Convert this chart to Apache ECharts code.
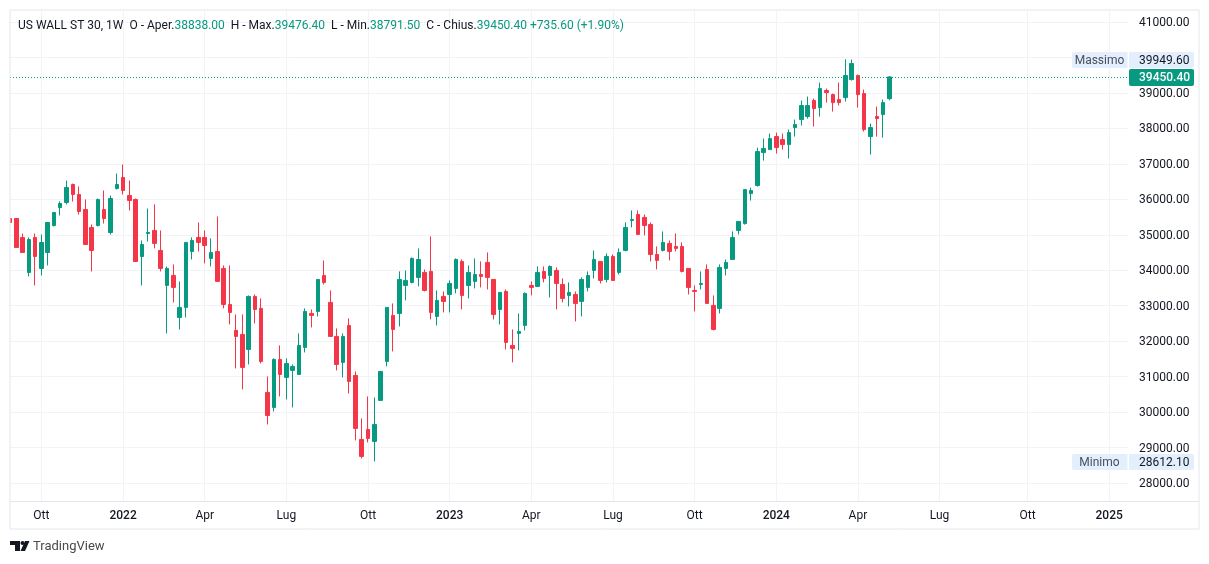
<!DOCTYPE html>
<html>
<head>
<meta charset="UTF-8">
<script src="https://cdn.jsdelivr.net/npm/echarts@6/dist/echarts.min.js"></script>
<style>
html, body { margin: 0; padding: 0; background: #fff; }
#chart { width: 1209px; height: 564px; }
</style>
</head>
<body>
<div id="chart"></div>
<script>
// weekly candles
var firstWeek = '2021-08-30';
var weekCount = 179;

var opens = [
  35458,35458,34923,33936,34923,34048,34500,35261,35769,35910,
  36417,36135,35712,35205,35261,35712,35064,36304,36615,36107,
  35994,34387,35035,35122,34558,33571,33853,32669,32951,34530,
  34925,34925,34333,34530,34051,33035,32302,32189,31766,33261,
  32923,30554,30131,31484,30977,31174,31061,31823,32782,32838,
  33853,33092,32133,31400,32443,31033,29228,29510,29172,30328,
  31428,32725,32782,33571,33656,33797,33938,33966,32697,33261,
  33317,33487,34248,33571,33684,33881,34220,33740,32894,33402,
  31879,32218,32443,33571,33543,33966,33853,33994,33599,33289,
  33317,33120,33515,33994,34248,33740,34389,33938,34558,35404,
  35573,35489,35291,34445,34558,34756,34671,34671,34051,33430,
  33599,34022,33007,32923,34051,34304,35122,35315,36161,36387,
  37317,37402,37769,37684,37543,38022,38248,38333,38784,38586,
  39066,38953,38812,38868,39376,39489,38981,37769,38333,38389,
  38838
];
var closes = [
  35346,34641,34500,34866,34387,34782,35346,35628,35881,36333,
  36135,35656,34725,34556,35994,35458,36022,36417,36248,35966,
  34246,34725,35064,34756,34051,34051,33515,32951,34784,34840,
  34784,34699,34502,33684,33035,32810,32133,31259,33261,32894,
  31428,29905,31484,31061,31372,31287,31879,32838,32725,33740,
  33656,32133,31343,32133,30864,29539,28749,29257,29651,31146,
  32951,32330,33740,33712,34333,34304,33430,32810,33148,33120,
  33628,34304,33289,33938,33881,33825,33797,32753,33374,31964,
  31795,32274,33346,33515,33938,33769,34107,33628,33205,33374,
  33064,33740,33853,34304,33712,34389,33712,34502,35207,35432,
  35009,35263,34445,34276,34784,34530,34615,33966,33515,33402,
  33628,33064,32330,34079,34220,34925,35376,36274,36246,37346,
  37430,37712,37458,37543,37881,38107,38643,38643,38558,39122,
  39009,38727,38727,39489,39827,38953,37966,38022,38276,38727,
  39450.4
];
var lows = [
  35261,34641,34500,33823,33569,33851,34133,35233,35543,35853,
  35938,35571,34725,33964,35233,35317,35007,36276,36135,35684,
  34246,33569,34810,34615,33966,32218,33092,32330,32669,34304,
  34530,34192,34107,33684,32923,32471,31231,30638,31343,32500,
  31372,29651,30018,30441,30356,30131,31061,31682,32387,32697,
  33599,32133,31174,30977,30526,29200,28693,29144,28612.1,30328,
  31287,31710,32415,33148,33628,33543,33402,32612,32443,32810,
  32810,33346,32894,33205,33487,33515,33458,32612,32471,31766,
  31400,31738,32302,33289,33543,33656,33233,32894,33092,32979,
  32556,32697,33402,33769,33628,33656,33712,33881,34530,35207,
  35009,34981,34248,34022,34530,34276,34530,33938,33317,32838,
  33458,33064,32302,32782,33853,34304,35009,35287,35964,36359,
  37092,37402,37289,37402,37148,37769,38079,38276,38051,38333,
  38727,38474,38643,38756,39348,38586,37910,37261,37769,37740,
  38791.5
];
var highs = [
  35543,35458,35035,34923,35035,35007,35346,35628,35938,36530,
  36445,36361,35994,35289,36022,36248,36107,36727,36981,36530,
  36022,34838,35740,35855,35122,34107,34163,33684,34784,34925,
  35348,35122,34897,35517,34135,34135,32753,32753,33289,33317,
  33205,31005,31513,31879,31513,31343,32218,32923,32894,33740,
  34276,33430,32359,32218,32641,31146,29821,30441,30413,31146,
  32951,33064,33966,33994,34361,34615,34022,34953,33430,33402,
  33712,34333,34304,34135,34333,34248,34502,33740,33374,33458,
  32330,32782,33374,33684,34107,34107,34135,34079,33769,33656,
  33402,33797,33966,34558,34248,34474,34445,34615,35348,35686,
  35686,35573,35348,34671,35094,34840,35038,34784,34051,33571,
  33966,34163,33289,34163,34304,35094,35376,36274,36330,37458,
  37712,37853,37881,37853,37966,38248,38784,38897,38840,39291,
  39122,38981,39291,39949.6,39940,39517,39094,38135,38615,38812,
  39476.4
];

var priceTicks = [28000,29000,30000,31000,32000,33000,34000,35000,36000,37000,38000,39000,40000,41000];
// 40000 sits under the Massimo tag, so it has a grid line but no label
var priceLabels = [28000,29000,30000,31000,32000,33000,34000,35000,36000,37000,38000,39000,41000];
var timeTicks = {
  '2021-10-04': 'Ott', '2022-01-03': '2022', '2022-04-04': 'Apr', '2022-07-04': 'Lug',
  '2022-10-03': 'Ott', '2023-01-02': '2023', '2023-04-03': 'Apr', '2023-07-03': 'Lug',
  '2023-10-02': 'Ott', '2024-01-01': '2024', '2024-04-01': 'Apr', '2024-07-01': 'Lug',
  '2024-10-07': 'Ott', '2025-01-06': '2025'
};
var maxPrice = 39949.6;
var minPrice = 28612.1;
var lastPrice = 39450.4;

var GREEN = '#089981';
var RED = '#F43649';
var GRID = '#F2F3F6';
var FRAME = '#E4E6EC';
var INK = '#131722';
var TAG = '#E3EFFD';
var FONT = 'Roboto, sans-serif';

var weeks = [];
var d = new Date(firstWeek + 'T00:00:00Z');
for (var i = 0; i < weekCount; i++) {
  weeks.push(d.toISOString().slice(0, 10));
  d.setUTCDate(d.getUTCDate() + 7);
}
var candles = opens.map(function (o, i) {
  return [o, closes[i], lows[i], highs[i]];
});
function isTick(i, name) { return timeTicks[name] !== undefined; }

var chart = echarts.init(document.getElementById('chart'));
chart.setOption({
  animation: false,
  backgroundColor: '#fff',
  textStyle: { fontFamily: FONT },
  title: {
    left: 18, top: 20, padding: 0,
    text: '{t|US WALL ST 30, 1W  O - Aper.}{v|38838.00}{t|  H - Max.}{v|39476.40}{t|  L - Min.}{v|38791.50}{t|  C - Chius.}{v|39450.40 +735.60 (+1.90%)}',
    textStyle: {
      fontWeight: 'normal',
      rich: {
        t: { fontFamily: FONT, fontSize: 12, fontWeight: 'normal', color: INK },
        v: { fontFamily: FONT, fontSize: 12, fontWeight: 'normal', color: GREEN }
      }
    }
  },
  grid: { left: 10, right: 81, top: 11, bottom: 62.5 },
  xAxis: {
    type: 'category',
    data: weeks,
    boundaryGap: false,
    axisLine: { lineStyle: { color: FRAME } },
    axisTick: { show: false },
    axisLabel: {
      interval: isTick,
      margin: 8,
      formatter: function (name) {
        var t = timeTicks[name];
        return t.length === 4 ? '{y|' + t + '}' : '{m|' + t + '}';
      },
      rich: {
        y: { fontFamily: FONT, fontSize: 12, fontWeight: 500, color: INK },
        m: { fontFamily: FONT, fontSize: 12, color: INK }
      }
    },
    splitLine: { show: true, interval: isTick, lineStyle: { color: GRID } }
  },
  yAxis: {
    type: 'value',
    position: 'right',
    min: 27478,
    max: 41310,
    axisLine: { show: false },
    axisTick: { show: false, customValues: priceTicks },
    axisLabel: {
      customValues: priceLabels,
      margin: 11,
      formatter: function (v) { return '{p|' + v.toFixed(2) + '}'; },
      rich: {
        p: { fontFamily: FONT, fontSize: 12, color: INK, padding: [2, 0, 0, 0] }
      }
    },
    splitLine: { show: true, lineStyle: { color: GRID } }
  },
  series: [{
    type: 'candlestick',
    data: candles,
    barWidth: 4,
    clip: true,
    itemStyle: {
      color: GREEN, color0: RED,
      borderColor: GREEN, borderColor0: RED,
      borderWidth: 1
    },
    markLine: {
      silent: true,
      symbol: 'none',
      label: { show: false },
      lineStyle: { color: GREEN, type: [1, 2], width: 1 },
      data: [{ yAxis: lastPrice }]
    }
  }]
});

// tags on the price scale, placed from the values through the axis
function priceTag(value, name) {
  var y = Math.round(chart.convertToPixel({ yAxisIndex: 0 }, value)) + 1;
  return [
    { type: 'rect', z: 20, shape: { x: 1072, y: y - 8, width: 55.5, height: 16, r: [2, 0, 0, 2] }, style: { fill: TAG } },
    { type: 'text', z: 21, style: { x: 1099.5, y: y + 0.5, text: name, fill: '#4A4F5C', font: '12px ' + FONT, align: 'center', verticalAlign: 'middle' } },
    { type: 'rect', z: 20, shape: { x: 1129, y: y - 8, width: 65, height: 16, r: [0, 2, 2, 0] }, style: { fill: TAG } },
    { type: 'text', z: 21, style: { x: 1139, y: y + 0.5, text: value.toFixed(2), fill: INK, font: '12px ' + FONT, align: 'left', verticalAlign: 'middle' } }
  ];
}
var lastY = Math.round(chart.convertToPixel({ yAxisIndex: 0 }, lastPrice));
var extras = [
  // the first candle is cut by the pane edge
  { type: 'rect', z: 4, shape: { x: 0, y: 0, width: 10, height: 564 }, style: { fill: '#fff' } },
  { type: 'rect', z: 5, shape: { x: 10, y: 10, width: 1189, height: 519 }, style: { fill: 'none', stroke: FRAME, lineWidth: 1 } },
  { type: 'line', z: 5, shape: { x1: 10, y1: 501.5, x2: 1199, y2: 501.5 }, style: { stroke: FRAME, lineWidth: 1 } },
  { type: 'rect', z: 22, shape: { x: 1129, y: lastY - 8, width: 65, height: 17, r: 2 }, style: { fill: GREEN } },
  { type: 'text', z: 23, style: { x: 1139, y: lastY + 1, text: lastPrice.toFixed(2), fill: '#fff', font: '500 12px ' + FONT, align: 'left', verticalAlign: 'middle' } },
  // TradingView mark
  { type: 'polygon', z: 5, shape: { points: [[10, 541], [20, 541], [20, 551], [15, 551], [15, 545], [10, 545]] }, style: { fill: INK } },
  { type: 'circle', z: 5, shape: { cx: 22.5, cy: 543, r: 2 }, style: { fill: INK } },
  { type: 'polygon', z: 5, shape: { points: [[25, 541], [29.5, 541], [25, 551], [20.5, 551]] }, style: { fill: INK } },
  { type: 'text', z: 5, style: { x: 33, y: 546.5, text: 'TradingView', fill: '#4A4A4A', font: '13px ' + FONT, align: 'left', verticalAlign: 'middle' } }
].concat(priceTag(maxPrice, 'Massimo'), priceTag(minPrice, 'Minimo'));
chart.setOption({ graphic: extras });
</script>
</body>
</html>
